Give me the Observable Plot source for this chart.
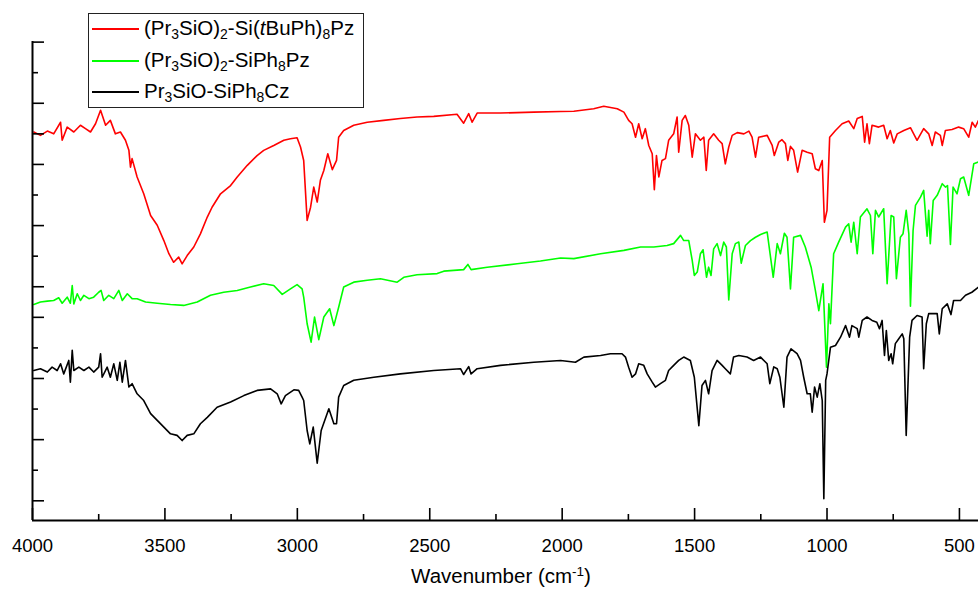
<!DOCTYPE html>
<html>
<head>
<meta charset="utf-8">
<script src="https://cdn.jsdelivr.net/npm/d3@7"></script>
<script src="https://cdn.jsdelivr.net/npm/@observablehq/plot@0.6"></script>
<style>
  html, body { margin: 0; padding: 0; background: #fff; }
  #wrap { position: relative; width: 978px; height: 590px; font-family: "Liberation Sans", Arial, sans-serif; }
  #legend { position: absolute; left: 88px; top: 13px; width: 276px; height: 95px; border: 1px solid #222; background: #fff; box-sizing: border-box; }
  .row { position: absolute; left: 0; height: 30px; font-size: 20.5px; color: #000; white-space: nowrap; }
  .row .ln { position: absolute; left: 3px; width: 47px; height: 2px; top: 14px; }
  .row .tx { position: absolute; left: 55px; top: 2px; line-height: 24px; }
  sub { font-size: 0.68em; vertical-align: -0.32em; line-height: 0; }
  sup { font-size: 0.66em; vertical-align: 0.55em; line-height: 0; }
  #xlabel { position: absolute; left: 0; width: 1002px; top: 564px; text-align: center; font-size: 20.5px; color: #000; }
</style>
</head>
<body>
<div id="wrap"></div>
<script>
// Series: [wavenumber (cm-1), transmittance (offset, a.u.)]
const seriesNames = [
  "(Pr3SiO)2-Si(tBuPh)8Pz",
  "(Pr3SiO)2-SiPh8Pz",
  "Pr3SiO-SiPh8Cz"
];
const seriesColors = ["#ff0000", "#00ff00", "#000000"];

const redSpectrum = [[3995,120.6],[3970,119.5],[3944,120.9],[3920,120.0],[3894,123.8],[3888,117.9],[3869,122.2],[3844,120.6],[3819,122.8],[3800,121.7],[3781,120.6],[3762,123.3],[3743,127.7],[3724,122.8],[3706,124.4],[3687,120.0],[3668,120.6],[3649,117.9],[3636,114.6],[3630,109.1],[3624,111.9],[3605,105.9],[3580,100.4],[3554,93.3],[3529,90.1],[3504,85.1],[3485,80.8],[3467,78.0],[3448,79.7],[3435,77.5],[3416,80.2],[3391,83.0],[3366,87.3],[3340,92.8],[3322,96.0],[3290,100.4],[3252,103.1],[3227,105.9],[3189,109.7],[3152,112.9],[3127,114.6],[3089,116.2],[3051,117.9],[3026,118.4],[3001,118.7],[2988,115.7],[2976,111.3],[2963,91.7],[2950,96.0],[2938,102.6],[2925,97.7],[2913,104.8],[2900,108.0],[2885,113.5],[2868,108.3],[2852,111.3],[2844,118.9],[2825,121.1],[2787,122.8],[2736,123.8],[2674,124.4],[2611,125.0],[2548,125.5],[2485,125.7],[2397,126.4],[2372,123.5],[2353,126.6],[2340,123.8],[2321,126.8],[2233,126.8],[2107,127.1],[2006,127.3],[1956,127.4],[1881,128.2],[1843,129.0],[1792,128.2],[1767,127.1],[1749,124.4],[1736,123.3],[1723,118.9],[1711,123.3],[1698,118.4],[1686,121.7],[1673,116.2],[1660,113.5],[1652,101.7],[1644,112.9],[1635,105.9],[1623,111.3],[1610,111.9],[1598,117.9],[1579,120.0],[1566,125.5],[1560,114.0],[1547,124.4],[1535,126.0],[1522,122.8],[1509,112.4],[1497,120.0],[1478,117.9],[1465,118.9],[1456,108.0],[1447,117.9],[1428,120.0],[1409,117.9],[1396,116.8],[1384,110.2],[1371,115.7],[1358,119.5],[1339,120.4],[1314,120.0],[1295,120.9],[1283,118.9],[1270,112.4],[1258,118.9],[1226,119.5],[1207,116.2],[1199,112.9],[1182,117.3],[1170,118.1],[1157,116.8],[1148,111.3],[1138,115.9],[1126,114.6],[1111,107.5],[1094,114.6],[1075,114.0],[1056,113.5],[1044,108.6],[1031,108.0],[1018,111.3],[1010,91.1],[1000,95.0],[990,118.9],[968,121.1],[943,123.3],[918,124.2],[899,121.7],[886,125.0],[867,125.7],[858,117.3],[849,123.3],[840,116.8],[830,122.8],[805,122.2],[786,122.8],[773,118.4],[761,121.1],[748,117.0],[735,120.0],[710,121.1],[685,122.0],[660,117.9],[635,121.7],[616,120.0],[603,116.2],[591,120.6],[572,119.5],[565,116.2],[553,121.1],[528,121.4],[503,122.2],[484,121.7],[465,118.9],[452,123.8],[440,122.2],[428,124.4]];

const greenSpectrum = [[3995,64.2],[3970,65.0],[3944,65.3],[3920,65.5],[3901,66.4],[3888,64.6],[3869,66.6],[3857,64.6],[3850,70.4],[3844,64.4],[3831,67.7],[3819,65.5],[3806,67.2],[3787,66.1],[3769,66.6],[3750,68.2],[3741,68.8],[3731,65.5],[3712,67.2],[3693,66.1],[3674,68.8],[3661,65.5],[3642,67.7],[3624,66.1],[3605,66.1],[3573,65.0],[3529,64.6],[3479,64.2],[3429,63.9],[3378,65.0],[3328,67.2],[3278,68.2],[3227,68.8],[3177,69.9],[3127,71.0],[3089,70.4],[3057,67.5],[3026,69.3],[3001,70.7],[2982,69.3],[2976,66.6],[2963,57.9],[2948,51.9],[2935,60.1],[2919,52.7],[2900,60.1],[2878,62.8],[2862,57.3],[2844,63.3],[2825,69.9],[2787,71.5],[2736,72.1],[2686,72.6],[2623,71.5],[2598,73.1],[2548,73.9],[2472,74.3],[2447,75.1],[2372,75.6],[2356,77.3],[2344,75.6],[2283,76.4],[2170,77.5],[2082,78.4],[2006,79.4],[1956,79.2],[1855,80.8],[1767,81.9],[1704,83.0],[1654,83.0],[1604,83.5],[1579,84.1],[1553,86.8],[1541,85.1],[1522,85.1],[1509,78.6],[1501,73.7],[1490,74.8],[1478,80.8],[1468,82.1],[1455,73.1],[1447,76.4],[1438,73.7],[1428,82.4],[1415,84.1],[1402,80.2],[1390,84.6],[1380,83.0],[1371,65.7],[1358,80.8],[1346,84.1],[1333,84.6],[1324,77.7],[1308,83.5],[1289,85.1],[1270,86.2],[1251,87.1],[1226,87.9],[1203,73.1],[1188,84.1],[1176,80.8],[1161,87.5],[1151,86.2],[1138,69.3],[1126,86.2],[1100,86.8],[1082,83.0],[1060,76.4],[1044,68.8],[1031,62.2],[1015,71.0],[1002,43.7],[993,64.4],[987,57.9],[975,80.8],[956,84.6],[930,89.5],[918,90.6],[909,84.6],[899,91.1],[886,80.8],[874,92.8],[849,95.5],[836,93.3],[827,80.8],[817,95.0],[805,92.8],[786,95.5],[773,71.0],[758,93.3],[748,92.8],[738,72.6],[723,86.2],[713,87.3],[701,95.0],[691,87.3],[685,63.6],[675,88.4],[666,96.6],[647,99.3],[635,101.5],[622,86.5],[616,95.0],[610,84.1],[599,98.2],[584,99.9],[565,103.7],[553,102.6],[545,103.1],[534,83.8],[524,102.6],[509,100.4],[496,105.3],[484,105.9],[465,99.9],[446,110.2],[428,110.8]];

const blackSpectrum = [[3995,42.6],[3970,43.2],[3944,42.1],[3926,43.7],[3907,42.6],[3894,44.8],[3882,41.5],[3863,45.9],[3857,38.8],[3850,49.2],[3844,42.6],[3825,43.7],[3806,42.6],[3787,43.7],[3769,42.1],[3750,43.7],[3743,48.1],[3737,40.4],[3718,43.7],[3706,40.4],[3693,44.8],[3680,39.4],[3670,45.3],[3661,38.8],[3649,45.9],[3636,37.2],[3624,38.3],[3605,35.0],[3580,32.8],[3554,28.5],[3529,26.3],[3504,24.1],[3479,21.9],[3454,21.4],[3435,19.7],[3416,21.4],[3391,21.9],[3366,25.2],[3340,27.3],[3303,30.6],[3252,32.3],[3202,34.4],[3152,36.1],[3101,36.6],[3076,35.0],[3061,31.7],[3045,34.4],[3013,36.3],[2995,36.1],[2982,33.9],[2976,32.8],[2963,23.0],[2953,18.6],[2940,24.1],[2925,12.3],[2910,23.0],[2881,30.1],[2862,25.2],[2852,25.2],[2844,33.9],[2825,37.7],[2787,39.4],[2711,40.4],[2611,41.5],[2485,42.6],[2384,43.2],[2372,41.3],[2353,43.9],[2344,41.5],[2321,43.2],[2233,44.3],[2107,45.3],[2006,45.9],[1950,45.3],[1918,47.0],[1855,47.5],[1818,48.1],[1774,48.1],[1761,47.0],[1749,43.7],[1736,40.4],[1723,41.5],[1711,44.8],[1692,44.3],[1679,41.5],[1660,38.8],[1648,37.2],[1629,38.3],[1610,39.4],[1598,42.6],[1579,44.3],[1560,45.9],[1541,47.0],[1516,45.9],[1501,40.4],[1484,24.6],[1472,37.7],[1459,39.4],[1447,35.0],[1434,42.6],[1415,45.9],[1396,44.3],[1384,43.2],[1365,41.5],[1353,47.0],[1333,47.5],[1302,47.0],[1277,45.9],[1251,47.0],[1226,44.8],[1216,38.3],[1201,43.8],[1188,43.2],[1178,40.4],[1163,30.6],[1151,47.0],[1136,49.7],[1113,48.1],[1100,45.9],[1088,40.4],[1075,35.0],[1063,35.0],[1056,29.0],[1047,37.2],[1037,33.9],[1027,38.3],[1018,32.8],[1012,0.7],[1005,39.4],[1000,41.5],[987,50.2],[968,50.8],[949,53.5],[930,57.3],[915,53.5],[906,57.3],[886,56.3],[880,53.5],[867,59.0],[849,60.1],[830,59.0],[812,58.4],[802,56.3],[792,59.0],[783,47.5],[776,55.7],[767,45.9],[758,48.1],[752,44.8],[742,51.4],[729,53.0],[716,54.6],[710,53.0],[701,21.4],[688,53.5],[679,59.0],[660,60.6],[641,60.1],[635,43.2],[625,57.9],[616,61.2],[597,61.2],[584,61.2],[576,54.6],[565,62.8],[546,64.4],[532,60.9],[522,65.5],[496,65.5],[477,67.2],[453,68.2],[428,69.9]];

// Axis ticks
const xMajorTicks = [4000, 3500, 3000, 2500, 2000, 1500, 1000, 500];
const xMinorTicks = [3750, 3250, 2750, 2250, 1750, 1250, 750];
const yLongTicks = [0, 20, 40, 60, 70, 90, 110, 120, 130, 150];
const yShortTicks = [10, 30, 50, 80, 100, 140];
const xDomain = [4000, 428];
const yDomain = [-6.44, 150.2];

const spectra = [redSpectrum, greenSpectrum, blackSpectrum];
const rows = spectra.flatMap((s, i) => s.map(([wn, t]) => ({wn, t, series: seriesNames[i]})));

const chart = Plot.plot({
  width: 978,
  height: 590,
  marginLeft: 32,
  marginRight: 0,
  marginTop: 41,
  marginBottom: 70,
  style: {fontFamily: "'Liberation Sans', Arial, sans-serif", background: "#fff", overflow: "visible"},
  x: {domain: xDomain, label: null},
  y: {domain: yDomain, label: null},
  color: {domain: seriesNames, range: seriesColors},
  marks: [
    Plot.line(rows, {x: "wn", y: "t", z: "series", stroke: "series", strokeWidth: 1.6, strokeLinejoin: "round"}),
    Plot.axisX(xMajorTicks, {tickSize: -12, tickFormat: () => "", strokeWidth: 1.6, label: null}),
    Plot.axisX(xMinorTicks, {tickSize: -6, tickFormat: () => "", strokeWidth: 1.6, label: null}),
    Plot.axisX(xMajorTicks, {tickSize: 0, tickPadding: 18, fontSize: 18.5, fill: "#000", label: null, tickFormat: d => String(d)}),
    Plot.axisY(yLongTicks, {tickSize: -12, tickFormat: () => "", strokeWidth: 1.6, label: null}),
    Plot.axisY(yShortTicks, {tickSize: -6, tickFormat: () => "", strokeWidth: 1.6, label: null}),
    Plot.ruleY([yDomain[0]], {strokeWidth: 2}),
    Plot.ruleX([xDomain[0]], {strokeWidth: 2})
  ]
});

const wrap = document.getElementById("wrap");
wrap.appendChild(chart);

const legendHTML = [
  "(Pr<sub>3</sub>SiO)<sub>2</sub>-Si(<i>t</i>BuPh)<sub>8</sub>Pz",
  "(Pr<sub>3</sub>SiO)<sub>2</sub>-SiPh<sub>8</sub>Pz",
  "Pr<sub>3</sub>SiO-SiPh<sub>8</sub>Cz"
];
const legend = document.createElement("div");
legend.id = "legend";
legendHTML.forEach((h, i) => {
  const r = document.createElement("div");
  r.className = "row";
  r.style.top = (i * 31.5) + "px";
  r.style.width = "100%";
  r.innerHTML = `<span class="ln" style="background:${seriesColors[i]}"></span><span class="tx">${h}</span>`;
  legend.appendChild(r);
});
wrap.appendChild(legend);

const xl = document.createElement("div");
xl.id = "xlabel";
xl.innerHTML = "Wavenumber (cm<sup>-1</sup>)";
wrap.appendChild(xl);
</script>
</body>
</html>
